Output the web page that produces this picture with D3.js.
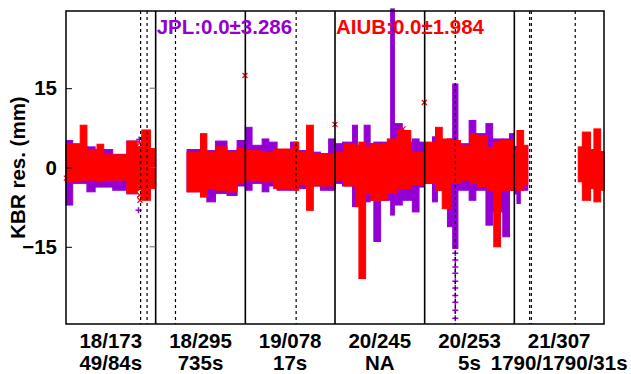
<!DOCTYPE html>
<html lang="en">
<head>
    <meta charset="UTF-8">
    <title>KBR residuals</title>
    <script src="https://d3js.org/d3.v7.min.js"></script>
    <style>
        body { margin: 0; background: #fff; }
        svg text {
            font-family: "Liberation Sans", Arial, sans-serif;
            font-weight: bold;
            font-size: 20.5px;
        }
    </style>
</head>
<body>
<div id="chart"></div>
<script>
    // panel labels (date / gap info)
    const days = ["18/173", "18/295", "19/078", "20/245", "20/253", "21/307"];
    const gaps = ["49/84s", "735s", "17s", "NA", "5s", "1790/1790/31s"];
    const yTicks = [-15, 0, 15];

    // envelopes of the residuals, [hourStart, hourEnd, max mm, min mm], hours run 0..144 across the 6 days
    const jplBins = [
        [0, 1.8, 5.1, -7.1], [1.8, 5.6, 3.9, -3.0], [5.6, 7.8, 3.9, -4.6], [7.8, 12.5, 3.4, -3.7],
        [12.5, 16.3, 2.5, -4.3], [16.3, 19, 5.0, -5.0], [19, 20.3, 3.9, -4.2], [20.3, 22.6, 6.0, -5.5],
        [22.6, 24, 3.4, -3.6],
        [32.4, 36.0, 3.4, -4.6], [36.0, 37.7, 3.0, -5.0], [37.7, 40.0, 3.2, -6.5], [40.0, 43.1, 5.0, -4.9],
        [43.1, 45.8, 3.2, -5.3], [45.8, 48, 5.1, -3.5],
        [48, 49.8, 7.6, -4.3], [49.8, 52.5, 4.2, -3.0], [52.5, 54.3, 5.4, -4.6], [54.3, 56.5, 4.8, -3.5],
        [56.5, 60.1, 3.2, -4.3], [60.1, 61.9, 4.8, -4.3], [61.9, 64.5, 3.2, -4.0], [64.5, 68.1, 2.9, -3.5],
        [68.1, 70.3, 2.6, -4.3], [70.3, 72, 5.4, -4.3],
        [72, 74, 4.5, -3.0], [74, 76.7, 4.8, -3.5], [76.7, 78, 8.0, -7.4], [78, 79.8, 3.9, -4.9],
        [79.8, 81.4, 8.0, -6.5], [81.4, 82.4, 4.5, -6.2], [82.4, 84.2, 4.8, -14.0], [84.2, 86.9, 4.8, -6.2],
        [86.9, 87.9, 30, -9.0], [87.9, 90, 8.3, -7.1], [90, 92.7, 4.8, -6.2], [92.7, 94.5, 5.4, -8.4],
        [94.5, 96, 4.8, -3.7],
        [96, 98.1, 3.8, -3.0], [98.1, 99.4, 5.8, -6.5], [99.4, 102.1, 5.1, -4.3], [102.1, 103.4, 5.4, -11.2],
        [103.5, 104.9, 15.8, -15.3], [104.9, 107.9, 4.5, -4.3], [107.9, 109.7, 8.9, -6.2], [109.7, 112.4, 6.4, -4.3],
        [112.4, 114.2, 8.3, -10.9], [114.2, 116.9, 5.4, -8.4], [116.9, 118.7, 5.4, -13.1], [118.7, 120, 6.4, -4.3],
        [120, 120.7, 4.0, -5.0], [120.7, 121.6, 3.0, -6.8], [121.6, 123.6, 4.0, -4.3],
        [143.1, 144, 3.0, -2.0]
    ];
    const aiubBins = [
        [0, 3.8, 4.5, -2.7], [3.8, 5.6, 8.0, -2.4], [5.6, 8.3, 3.2, -2.4], [8.3, 10.1, 4.4, -2.7],
        [10.1, 16.3, 2.4, -2.4], [16.3, 19.0, 5.0, -4.9], [19.0, 20.3, 3.9, -4.0], [20.3, 22.6, 7.1, -6.2],
        [22.6, 24, 3.6, -4.0],
        [32.4, 36.0, 2.9, -4.6], [36.0, 37.7, 6.4, -5.6], [37.7, 40.0, 2.9, -4.0], [40.0, 43.1, 3.9, -4.3],
        [43.1, 45.8, 2.9, -4.6], [45.8, 48, 3.6, -3.0],
        [48, 52.0, 3.2, -2.4], [52.0, 55.6, 2.9, -2.7], [55.6, 61.0, 3.5, -4.0], [61.0, 62.3, 4.8, -4.3],
        [62.3, 64.4, 2.9, -3.3], [64.4, 66.2, 8.0, -8.1], [66.2, 72, 2.6, -3.5],
        [72, 74.4, 2.9, -2.4], [74.4, 77.5, 4.5, -3.5], [77.5, 78.4, 4.2, -7.4], [78.4, 80.2, 4.8, -21.0],
        [80.2, 81.6, 3.9, -4.9], [81.6, 86.0, 4.5, -6.2], [86.0, 88.7, 5.4, -4.9], [88.7, 92.3, 7.0, -4.0],
        [92.3, 96, 2.9, -3.3],
        [96, 98.9, 4.8, -3.0], [98.9, 100.7, 7.6, -4.3], [100.7, 103.0, 5.4, -7.8], [103.0, 105.6, 5.1, -3.0],
        [105.6, 108.3, 4.2, -2.4], [108.3, 110.1, 6.4, -3.0], [110.1, 112.8, 6.0, -3.6], [112.8, 114.5, 3.8, -4.3],
        [114.5, 116.3, 4.8, -15.0], [116.3, 120, 5.1, -4.3],
        [120, 120.7, 3.4, -4.0], [120.7, 122.5, 7.0, -4.3], [122.5, 123.6, 4.2, -3.3],
        [137.1, 138.2, 3.9, -2.7], [138.2, 140.4, 6.7, -6.2], [140.4, 141.3, 3.4, -4.0], [141.3, 143.1, 7.3, -6.5],
        [143.1, 144, 2.9, -4.3]
    ];

    // isolated points, [hour, mm]
    const jplPoints = [
        [19.4, -8.1], [19.6, 5.3],
        [104.2, -16.2], [104.2, -17.5], [104.2, -18.8], [104.2, -20.0], [104.2, -21.5],
        [104.2, -22.8], [104.2, -24.2], [104.2, -25.5], [104.2, -27.0], [104.2, -28.5]
    ];
    const aiubPoints = [
        [0.1, -2.0], [19.7, 4.6], [19.8, 3.2], [19.8, -4.0], [19.7, -5.2], [19.8, -6.2],
        [47.9, 17.4], [72.0, 8.15], [90.2, 7.3], [95.9, 12.3]
    ];

    // data gaps / events inside the days (hours)
    const dashedHours = [19.97, 21.7, 29.3, 61.6, 104.2, 124.1, 124.55, 136.3];

    const jplText = "JPL:0.0±3.286";
    const aiubText = "AIUB:0.0±1.984";

    const W = 631, H = 374;
    const margin = { top: 11, right: 27, bottom: 50, left: 66 };
    const x0 = margin.left, x1 = W - margin.right;
    const y0 = margin.top, y1 = H - margin.bottom;

    const purple = "#9400d3", red = "#ff0000";

    const svg = d3.select("#chart").append("svg")
        .attr("width", W)
        .attr("height", H);

    const xScale = d3.scaleLinear().domain([0, 144]).range([x0, x1]);
    const yScale = d3.scaleLinear().domain([-29.6, 29.6]).range([y1, y0]);
    const band = d3.scaleBand().domain(days).range([x0, x1]).padding(0);

    // envelopes
    function drawBins(bins, color) {
        svg.append("g").selectAll("rect")
            .data(bins)
            .enter().append("rect")
            .attr("x", d => xScale(d[0]))
            .attr("width", d => xScale(d[1]) - xScale(d[0]))
            .attr("y", d => yScale(d[2]))
            .attr("height", d => yScale(d[3]) - yScale(d[2]))
            .style("fill", color)
            .style("stroke", color)
            .style("stroke-width", 1);
    }
    drawBins(jplBins, purple);
    drawBins(aiubBins, red);

    svg.append("g").selectAll("path")
        .data(jplPoints)
        .enter().append("path")
        .attr("d", d => {
            const px = xScale(d[0]), py = yScale(d[1]);
            return `M${px - 3},${py}H${px + 3}M${px},${py - 3}V${py + 3}`;
        })
        .style("stroke", purple)
        .style("stroke-width", 1.5);

    svg.append("g").selectAll("path")
        .data(aiubPoints)
        .enter().append("path")
        .attr("d", d => {
            const px = xScale(d[0]), py = yScale(d[1]);
            return `M${px - 2.5},${py - 2.5}L${px + 2.5},${py + 2.5}M${px - 2.5},${py + 2.5}L${px + 2.5},${py - 2.5}`;
        })
        .style("stroke", red)
        .style("stroke-width", 1.2);

    // dashed event lines
    svg.append("g").selectAll("line")
        .data(dashedHours)
        .enter().append("line")
        .attr("x1", d => xScale(d)).attr("x2", d => xScale(d))
        .attr("y1", y0).attr("y2", y1)
        .style("stroke", "#000")
        .style("stroke-width", 1.2)
        .style("stroke-dasharray", "3,3");

    // day separators
    svg.append("g").selectAll("line")
        .data(days.slice(1))
        .enter().append("line")
        .attr("x1", d => band(d)).attr("x2", d => band(d))
        .attr("y1", y0).attr("y2", y1)
        .style("stroke", "#000")
        .style("stroke-width", 1.6);

    // frame
    svg.append("rect")
        .attr("x", x0).attr("y", y0)
        .attr("width", x1 - x0).attr("height", y1 - y0)
        .style("fill", "none")
        .style("stroke", "#000")
        .style("stroke-width", 1.5);

    // y axis
    const yAxis = svg.append("g")
        .attr("transform", `translate(${x0},0)`)
        .call(d3.axisLeft(yScale).tickValues(yTicks).tickSizeInner(-6).tickSizeOuter(0).tickPadding(9).tickFormat(d3.format("d")));
    yAxis.select(".domain").remove();
    yAxis.selectAll("line").style("stroke", "#000");
    yAxis.selectAll("text").style("fill", "#000");
    yAxis.attr("font-size", null).attr("font-family", null);

    // mirror ticks on the first day's right edge
    svg.append("g").selectAll("line")
        .data(yTicks)
        .enter().append("line")
        .attr("x1", band(days[1]) - 6).attr("x2", band(days[1]))
        .attr("y1", d => yScale(d)).attr("y2", d => yScale(d))
        .style("stroke", "#666");

    svg.append("text")
        .attr("transform", `translate(25,${(y0 + y1) / 2}) rotate(-90)`)
        .style("text-anchor", "middle")
        .text("KBR res. (mm)");

    // bottom labels
    svg.append("g").selectAll("text")
        .data(days)
        .enter().append("text")
        .attr("x", d => band(d) + band.bandwidth() / 2)
        .attr("y", 348)
        .style("text-anchor", "middle")
        .text(d => d);
    svg.append("g").selectAll("text")
        .data(gaps)
        .enter().append("text")
        .attr("x", (d, i) => band(days[i]) + band.bandwidth() / 2)
        .attr("y", 370)
        .style("text-anchor", "middle")
        .text(d => d);

    // statistics
    svg.append("text")
        .attr("x", band(days[1]) + 1).attr("y", 34)
        .style("fill", purple)
        .text(jplText);
    svg.append("text")
        .attr("x", band(days[3]) + 1).attr("y", 34)
        .style("fill", red)
        .text(aiubText);
</script>
</body>
</html>
